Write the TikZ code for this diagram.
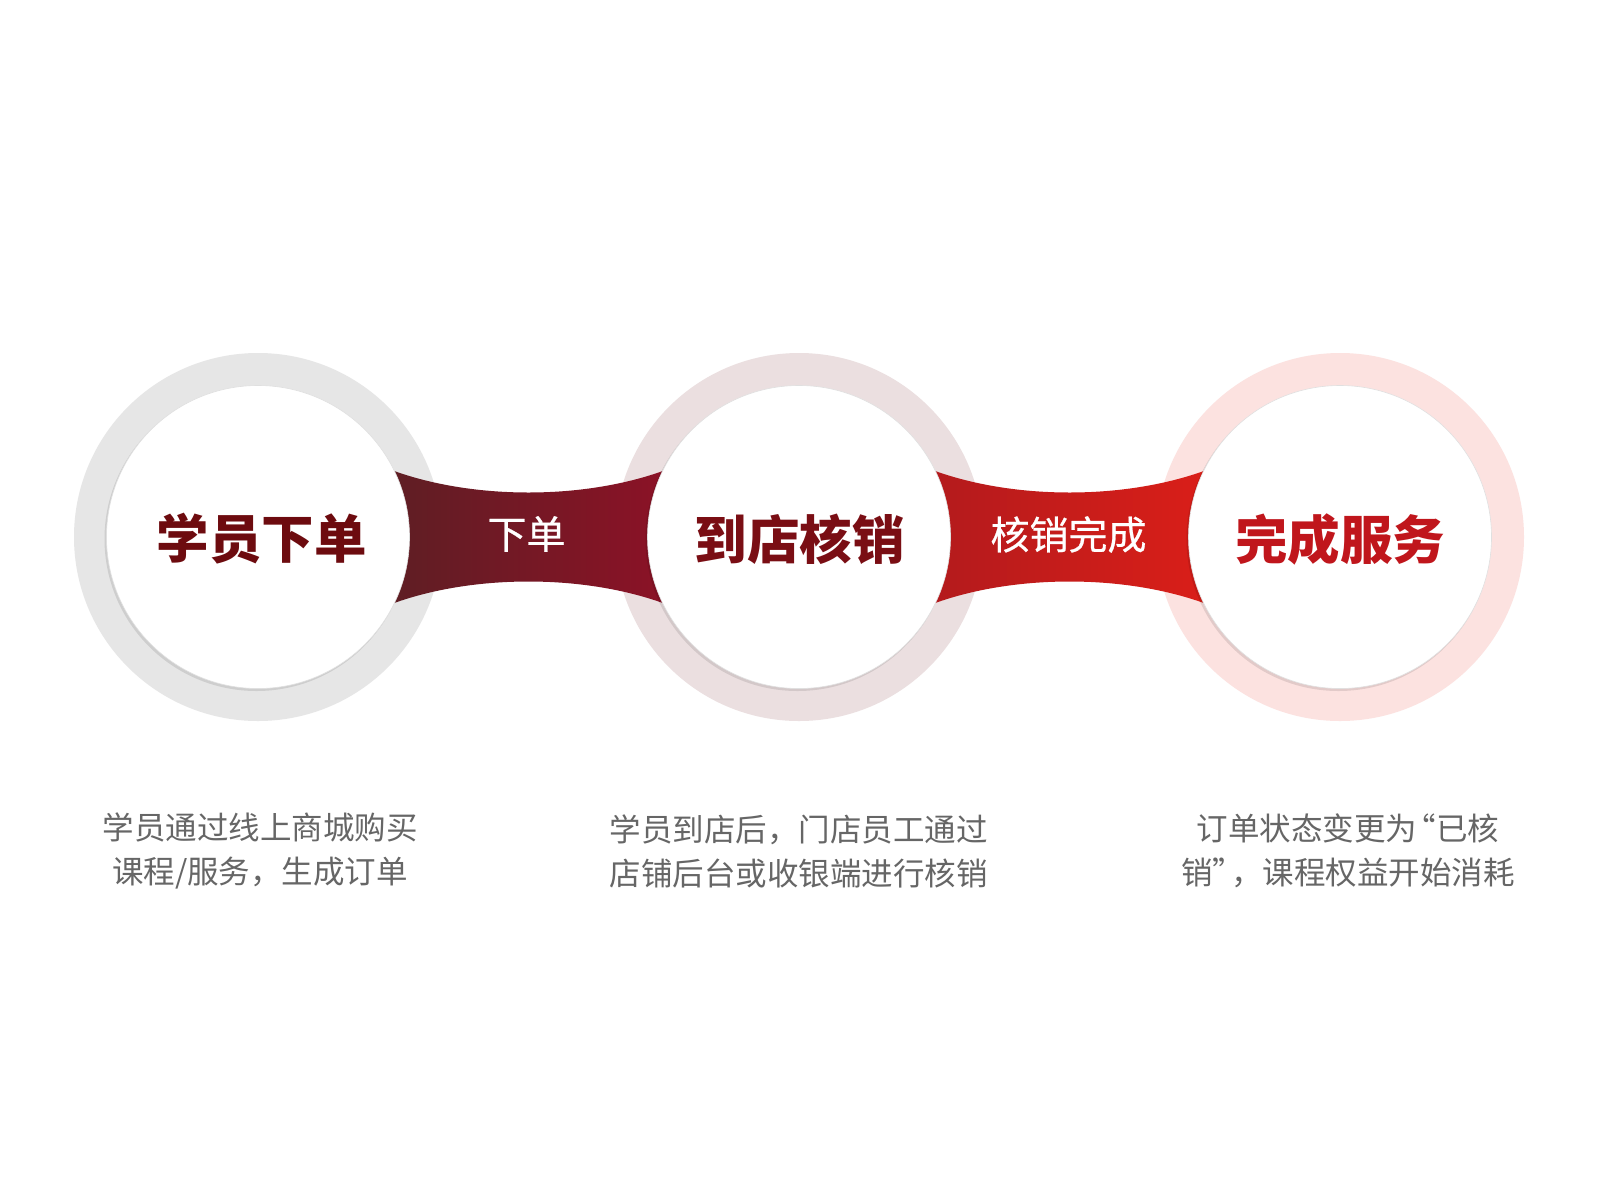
\documentclass[tikz,border=0pt]{standalone}
\usepackage{fontspec}
\setmainfont{Noto Sans CJK SC}
\newfontfamily\cjk{Noto Sans CJK SC}
\newfontfamily\cjkmed[FakeBold=0.6]{Noto Sans CJK SC}
\usetikzlibrary{calc}
\definecolor{ringA}{HTML}{E6E6E6}
\definecolor{ringB}{HTML}{EBDFE0}
\definecolor{ringC}{HTML}{FCE2E0}
\definecolor{bandAL}{HTML}{5B1F24}
\definecolor{bandAR}{HTML}{8F1126}
\definecolor{bandBL}{HTML}{B01A1D}
\definecolor{bandBR}{HTML}{DD1F18}
\definecolor{titleA}{HTML}{6D0B0F}
\definecolor{titleB}{HTML}{7A0E14}
\definecolor{titleC}{HTML}{C0161C}
\definecolor{descgray}{HTML}{666666}
\begin{document}
\begin{tikzpicture}[x=1pt,y=-1pt,
  outerring/.style={circle, minimum size=368pt, inner sep=0pt, draw=none},
  innerdisc/.style={circle, minimum size=303pt, inner sep=0pt, fill=white, draw=black!12, line width=0.6pt},
  discshadow/.style={circle, minimum size=304pt, inner sep=0pt, fill=black, fill opacity=0.10, draw=none},
  titletext/.style={font=\cjk\bfseries\fontsize{52.5}{52.5}\selectfont, inner sep=0pt},
  bandtext/.style={font=\cjkmed\fontsize{39}{39}\selectfont, text=white, inner sep=0pt},
  desctext/.style={font=\cjk\fontsize{31.5}{44}\selectfont, text=descgray, align=center, inner sep=0pt},
  bandshape/.style={draw=none}
]
\useasboundingbox (0,0) rectangle (1600,1200);
\fill[white] (0,0) rectangle (1600,1200);

% rings
\node[outerring, fill=ringA] (r1) at (258,537) {};
\node[outerring, fill=ringB] (r2) at (799,537) {};
\node[outerring, fill=ringC] (r3) at (1340,537) {};

\coordinate (m1) at ($(r1.center)!0.5!(r2.center)$);
\coordinate (m2) at ($(r2.center)!0.5!(r3.center)$);

% bands
\begin{scope}[shift={(m1)}]
\path[bandshape, left color=bandAL, right color=bandAR]
  (-158.5,-76) .. controls (-70,-34) and (70,-34) .. (158.5,-76)
  -- (158.5,76) .. controls (70,34) and (-70,34) .. (-158.5,76) -- cycle;
\end{scope}
\begin{scope}[shift={(m2)}]
\path[bandshape, left color=bandBL, right color=bandBR]
  (-158.5,-76) .. controls (-70,-34) and (70,-34) .. (158.5,-76)
  -- (158.5,76) .. controls (70,34) and (-70,34) .. (-158.5,76) -- cycle;
\end{scope}

% inner discs
\node[discshadow] (s1) at ($(r1.center)+(-1.5,2)$) {};
\node[discshadow] (s2) at ($(r2.center)+(-1.5,2)$) {};
\node[discshadow] (s3) at ($(r3.center)+(-1.5,2)$) {};
\node[innerdisc] (d1) at (r1.center) {};
\node[innerdisc] (d2) at (r2.center) {};
\node[innerdisc] (d3) at (r3.center) {};

% titles
\node[titletext, text=titleA] (t1) at ($(d1.center)+(3.5,2)$) {学员下单};
\node[titletext, text=titleB] (t2) at ($(d2.center)+(0.5,2)$) {到店核销};
\node[titletext, text=titleC] (t3) at ($(d3.center)+(0,2)$) {完成服务};

% band labels
\node[bandtext] (b1) at ($(m1)+(-2,-3)$) {下单};
\node[bandtext] (b2) at ($(m2)+(-1,-2.5)$) {核销完成};

% descriptions
\node[desctext] (x1) at (260,851) {学员通过线上商城购买\\课程/服务，生成订单};
\node[desctext] (x2) at (798.5,851) {学员到店后，门店员工通过\\店铺后台或收银端进行核销};
\node[desctext] (x3) at (1348,851) {订单状态变更为\kern-0.4em“已核\\销”\kern-0.4em，课程权益开始消耗};
\end{tikzpicture}
\end{document}
